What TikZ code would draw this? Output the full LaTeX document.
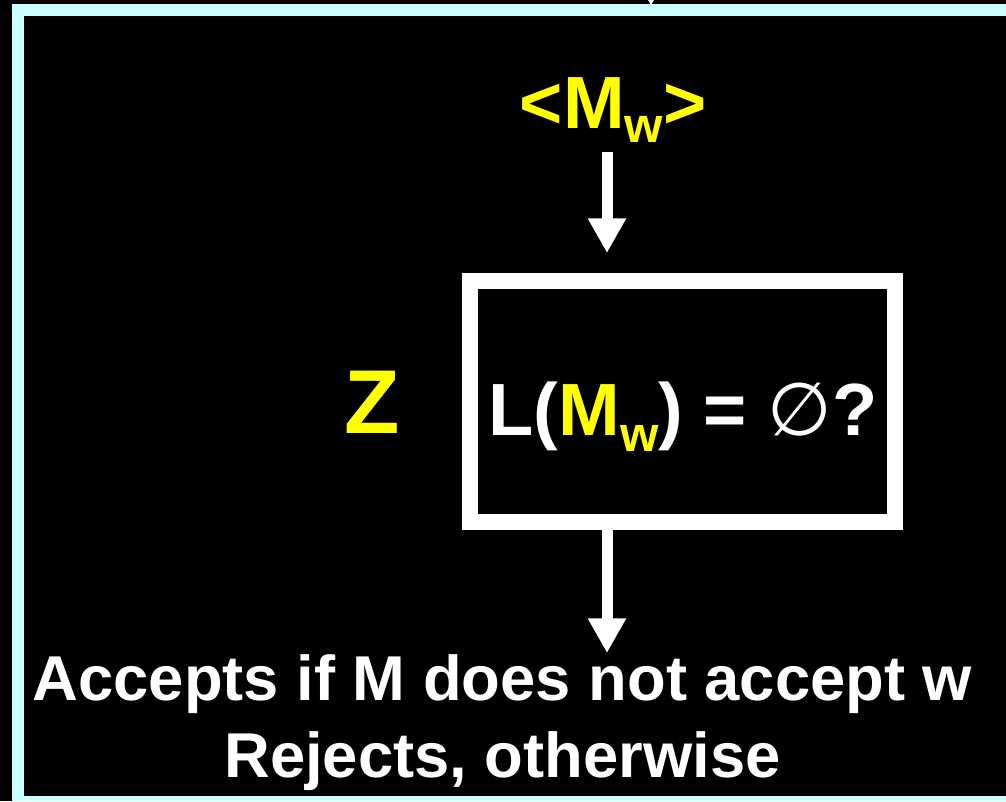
\documentclass[tikz,border=0pt]{standalone}
\usepackage{fontspec}
\setmainfont{Liberation Sans}
\newfontfamily\symfont{DejaVu Sans}
\usepackage{tikz}
\usetikzlibrary{arrows.meta}
\definecolor{framecyan}{RGB}{204,255,255}
\definecolor{labelyellow}{RGB}{255,255,0}
\newcommand{\subw}[1]{\raisebox{-#1}{\fontsize{37}{40}\selectfont w}}

\begin{document}
\begin{tikzpicture}[x=0.75pt, y=-0.75pt,
    flow/.style={white, line width=8.25pt, -{Triangle[width=27pt,length=26pt]}},
    bigtext/.style={font=\bfseries\fontsize{55.5}{60}\selectfont, inner sep=0pt}]
\useasboundingbox (0,0) rectangle (1006,801);

% ---- background and frame ----
\fill[black] (0,0) rectangle (1006,801);
\fill[framecyan] (12,4) rectangle (1006,801);
\fill[black] (24,16) rectangle (1006,796);
\fill[white] (648,0) -- (654,0) -- (651,5) -- cycle;

% ---- machine Z ----
\node[bigtext, labelyellow, anchor=base] (mw) at (613,128) {<M\subw{11pt}>};
\node[draw=white, line width=12pt, minimum width=318.75pt,
      minimum height=180.75pt, inner sep=0pt] (box) at (682.5,401.5) {};
\node[bigtext, white, anchor=base] (query) at (683,435)
    {L({\color{labelyellow}M\subw{12pt}}) = {\symfont\mdseries ∅}?};
\node[font=\bfseries\fontsize{68}{70}\selectfont, labelyellow,
      anchor=base, inner sep=0pt] (z) at (372,433) {Z};

% ---- result ----
\node[font=\bfseries\fontsize{47.5}{57.75}\selectfont, white, align=center,
      anchor=base, inner sep=0pt] (verdict) at (502.5,777)
    {Accepts if M does not accept w\\Rejects, otherwise};

\coordinate (intip) at (607,253);
\coordinate (outtip) at (607,653);
\draw[flow, shorten <=6.75pt] (mw.south -| intip) -- (intip);
\draw[flow] (box.south -| outtip) -- (outtip);

\end{tikzpicture}
\end{document}
